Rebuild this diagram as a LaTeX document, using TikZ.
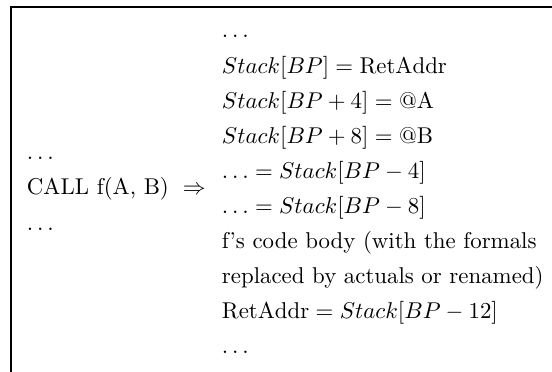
\documentclass[tikz,border=0pt]{standalone}
\usepackage{amsmath}
\usepackage{amssymb}
\usepackage{tikz}
\usetikzlibrary{positioning}

\tikzset{
  txt/.style={anchor=base west, inner sep=0pt, outer sep=0pt},
  frame/.style={draw=black, line width=0.8pt}
}
\newcommand{\rowsep}{15.34pt}

\begin{document}
\begin{tikzpicture}[x=0.4376pt, y=-0.4376pt]
        \useasboundingbox (0,0) rectangle (552,372);
        \draw[frame] (11,400) -- (11,7) -- (600,7);

        % expansion of the call
        \node[txt] (dotsTop) at (222,38) {$\ldots$};
        \node[below=\rowsep of dotsTop.base west, txt] (retStore) {$Stack[BP] = \mathrm{RetAddr}$};
        \node[below=\rowsep of retStore.base west, txt] (argA) {$Stack[BP+4] = \mbox{@A}$};
        \node[below=\rowsep of argA.base west, txt] (argB) {$Stack[BP+8] = \mbox{@B}$};
        \node[below=\rowsep of argB.base west, txt] (loadA) {$\ldots = Stack[BP-4]$};
        \node[below=\rowsep of loadA.base west, txt] (loadB) {$\ldots = Stack[BP-8]$};
        \node[below=\rowsep of loadB.base west, txt] (bodyOne) {f's code body (with the formals};
        \node[below=\rowsep of bodyOne.base west, txt] (bodyTwo) {replaced by actuals or renamed)};
        \node[below=\rowsep of bodyTwo.base west, txt] (retLoad) {$\mathrm{RetAddr} = Stack[BP-12]$};
        \node[below=\rowsep of retLoad.base west, txt] (dotsEnd) {$\ldots$};

        % the call site
        \node[txt] (callLine) at (27,195) {CALL f(A, B)};
        \node[above=\rowsep of callLine.base west, txt] (callPre) {$\ldots$};
        \node[below=\rowsep of callLine.base west, txt] (callPost) {$\ldots$};
        \node[txt] (arrow) at (183,195) {$\Rightarrow$};
      \end{tikzpicture}
\end{document}
